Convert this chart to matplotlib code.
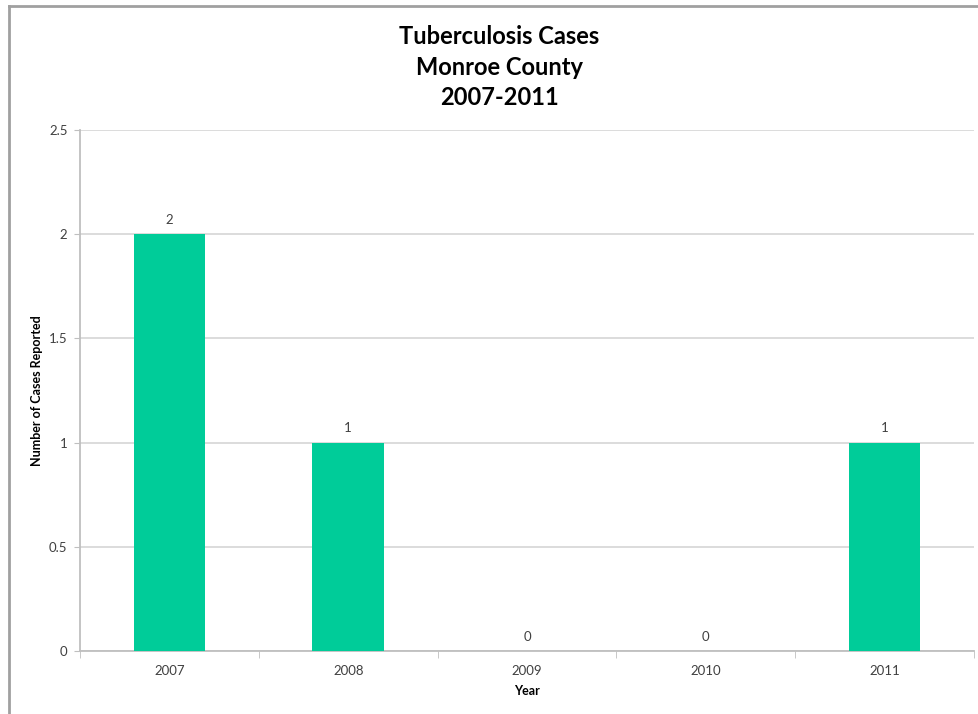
from matplotlib import pyplot as plt
from matplotlib.lines import Line2D
import numpy as np

years = ['2007', '2008', '2009', '2010', '2011']
cases = [2, 1, 0, 0, 1]

plt.rcParams['font.family'] = ['Lato', 'DejaVu Sans']

fig = plt.figure(figsize=(9.79, 7.14), dpi=100)
ax = fig.add_axes([0.0817, 0.0882, 0.9133, 0.7298])

x = np.arange(len(years))
ax.bar(x, cases, width=0.4, color='#00CC99', zorder=3)

for xi, v in zip(x, cases):
    ax.text(xi, v + 0.04, str(v), ha='center', va='bottom', fontsize=9.5, color='#404040')

ax.set_xlim(-0.5, len(years) - 0.5)
ax.set_ylim(0, 2.5)
ax.set_yticks([0, 0.5, 1, 1.5, 2, 2.5])
ax.set_yticklabels(['0', '0.5', '1', '1.5', '2', '2.5'])
ax.set_xticks(x)
ax.set_xticklabels(years)
ax.set_xticks(np.arange(-0.5, len(years)), minor=True)

ax.grid(axis='y', color='#D9D9D9', linewidth=1.3, zorder=0)
for s in ['top', 'right']:
    ax.spines[s].set_visible(False)
ax.spines['left'].set_color('#BFBFBF')
ax.spines['bottom'].set_color('#BFBFBF')
ax.spines['left'].set_linewidth(1.3)
ax.spines['bottom'].set_linewidth(1.3)

ax.tick_params(axis='y', length=4, color='#BFBFBF', labelsize=9.5, labelcolor='#404040', pad=5)
ax.tick_params(axis='x', which='major', length=0, labelsize=9.5, labelcolor='#404040', pad=10)
ax.tick_params(axis='x', which='minor', length=5, color='#BFBFBF')

ax.set_ylabel('Number of Cases Reported', fontsize=9, fontweight='bold')
ax.yaxis.set_label_coords(-0.041, 0.5)
ax.set_xlabel('Year', fontsize=9, fontweight='bold', labelpad=6)

fig.text(0.51, 0.965, 'Tuberculosis Cases\nMonroe County\n2007-2011', ha='center', va='top',
         fontsize=17, fontweight='bold', linespacing=1.4)

# frame around the chart area (left and top edges visible)
fig.add_artist(Line2D([0.009, 0.009], [0, 0.992], transform=fig.transFigure, color='#A0A0A0', linewidth=2))
fig.add_artist(Line2D([0.009, 1.0], [0.992, 0.992], transform=fig.transFigure, color='#A0A0A0', linewidth=2))

plt.savefig('out.png', dpi=100)
